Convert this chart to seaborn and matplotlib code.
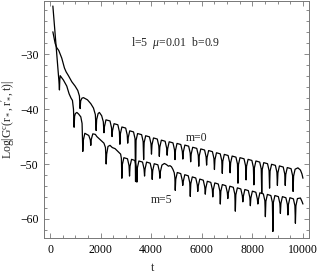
import pandas as pd
import seaborn as sns
import matplotlib
matplotlib.use("Agg")
import matplotlib.pyplot as plt
from matplotlib.ticker import MultipleLocator

# values
t_m0 = [110, 200, 264, 343, 462, 568, 634, 726, 858, 990, 1096, 1160, 1188,
        1210, 1260, 1320, 1478, 1610, 1716, 1790, 1822,
        1842, 1900, 1950, 2040, 2105, 2130,
        2150, 2210, 2370, 2430, 2450,
        2470, 2530, 2680, 2740, 2760,
        2780, 2840, 2990, 3050, 3070,
        3090, 3150, 3300, 3360, 3380,
        3400, 3460, 3620, 3680, 3700,
        3720, 3780, 3930, 3990, 4010,
        4030, 4090, 4240, 4300, 4320,
        4340, 4400, 4550, 4610, 4630,
        4650, 4710, 4860, 4920, 4940,
        4960, 5020, 5170, 5230, 5250,
        5270, 5330, 5480, 5540, 5560,
        5580, 5640, 5800, 5860, 5880,
        5900, 5960, 6110, 6170, 6190,
        6210, 6270, 6420, 6480, 6500,
        6520, 6580, 6730, 6790, 6810,
        6830, 6890, 7040, 7100, 7120,
        7140, 7200, 7350, 7410, 7430,
        7450, 7510, 7670, 7730, 7750,
        7770, 7830, 7980, 8040, 8060,
        8080, 8140, 8290, 8350, 8370,
        8390, 8450, 8600, 8660, 8680,
        8700, 8760, 8910, 8970, 8990,
        9010, 9070, 9220, 9280, 9300,
        9320, 9380, 9530, 9590, 9610,
        9630, 9690, 9800, 9900, 9960, 10000]
logg_m0 = [-25.9, -28.0, -28.8, -29.3, -30.7, -32.5, -33.2, -33.9, -35.0, -35.8, -36.6, -37.6, -39.9,
           -38.5, -38.0, -37.9, -38.3, -39.0, -39.8, -41.0, -43.9,
           -41.9, -40.8, -40.6, -41.2, -42.3, -44.3,
           -43.2, -41.95, -42.15, -43.4, -45.0,
           -43.9, -42.65, -42.85, -44.1, -46.4,
           -44.5, -43.25, -43.45, -44.7, -46.2,
           -45.2, -43.95, -44.15, -45.4, -53.2,
           -45.7, -44.45, -44.65, -45.9, -49.2,
           -46.1, -44.85, -45.05, -46.3, -48.2,
           -46.5, -45.25, -45.45, -46.7, -48.6,
           -46.9, -45.65, -45.85, -47.1, -48.4,
           -47.2, -45.95, -46.15, -47.4, -49.2,
           -47.5, -46.25, -46.45, -47.7, -49.1,
           -47.8, -46.55, -46.75, -48.0, -49.6,
           -48.2, -46.95, -47.15, -48.4, -50.4,
           -48.5, -47.25, -47.45, -48.7, -50.2,
           -48.8, -47.55, -47.75, -49.0, -51.0,
           -49.2, -47.95, -48.15, -49.4, -51.7,
           -49.5, -48.25, -48.45, -49.7, -51.6,
           -49.8, -48.55, -48.75, -50.0, -53.5,
           -50.1, -48.85, -49.05, -50.3, -52.9,
           -50.4, -49.15, -49.35, -50.6, -53.8,
           -50.7, -49.45, -49.65, -50.9, -55.3,
           -51.0, -49.75, -49.95, -51.2, -54.4,
           -51.3, -50.05, -50.25, -51.5, -53.9,
           -51.6, -50.35, -50.55, -51.8, -53.9,
           -51.9, -50.65, -50.85, -52.1, -55.0,
           -52.2, -50.95, -50.7, -51.1, -51.8, -52.6]

t_m5 = [110, 200, 300, 350, 370,
        385, 400, 450, 528, 600, 660, 752, 830, 884, 925, 950,
        970, 1000, 1060, 1130, 1214, 1265, 1294,
        1314, 1374, 1530, 1590, 1610,
        1630, 1690, 1790, 1850, 1990, 2130, 2190, 2218,
        2238, 2290, 2370, 2460, 2570, 2700, 2790, 2820, 2838,
        2858, 2918, 3062, 3122, 3142,
        3162, 3222, 3352, 3412, 3432,
        3452, 3512, 3656, 3716, 3736,
        3756, 3816, 3959, 4019, 4039,
        4059, 4119, 4263, 4323, 4343,
        4363, 4423, 4520, 4600, 4680, 4740, 4800, 4860, 4910, 4935, 4950,
        4970, 5030, 5167, 5227, 5247,
        5267, 5327, 5464, 5524, 5544,
        5564, 5624, 5761, 5821, 5841,
        5861, 5921, 6058, 6118, 6138,
        6158, 6218, 6355, 6415, 6435,
        6455, 6515, 6652, 6712, 6732,
        6752, 6812, 6949, 7009, 7029,
        7049, 7109, 7246, 7306, 7326,
        7346, 7406, 7543, 7603, 7623,
        7643, 7703, 7840, 7900, 7920,
        7940, 8000, 8137, 8197, 8217,
        8237, 8297, 8434, 8494, 8514,
        8534, 8594, 8731, 8791, 8811,
        8831, 8891, 9028, 9088, 9108,
        9128, 9188, 9325, 9385, 9405,
        9425, 9485, 9622, 9682, 9702,
        9722, 9782, 9900, 9960, 10000]
logg_m5 = [-21.2, -26.3, -32.0, -34.9, -36.5,
           -34.6, -33.9, -34.2, -34.7, -35.3, -35.8, -37.2, -38.0, -38.4, -40.0, -43.3,
           -41.3, -40.8, -40.6, -40.9, -41.4, -42.6, -47.7,
           -45.7, -44.4, -44.8, -45.6, -46.6,
           -45.5, -44.5, -44.6, -45.0, -45.6, -46.2, -47.0, -50.0,
           -48.2, -46.8, -46.6, -47.0, -47.2, -47.8, -48.2, -49.0, -52.6,
           -50.1, -48.85, -49.05, -50.3, -52.2,
           -50.4, -49.15, -49.35, -50.6, -53.3,
           -50.7, -49.45, -49.65, -50.9, -52.2,
           -50.9, -49.65, -49.85, -51.1, -52.8,
           -51.2, -49.95, -50.15, -51.4, -52.6,
           -51.4, -50.2, -49.9, -50.1, -50.4, -50.3, -50.5, -51.0, -51.6, -52.5, -54.8,
           -52.8, -51.55, -51.75, -53.0, -53.9,
           -53.2, -51.95, -52.15, -53.4, -55.9,
           -53.6, -52.35, -52.55, -53.8, -55.0,
           -54.0, -52.75, -52.95, -54.2, -55.5,
           -54.4, -53.15, -53.35, -54.6, -56.0,
           -54.7, -53.45, -53.65, -54.9, -57.3,
           -55.0, -53.75, -53.95, -55.2, -56.3,
           -55.3, -54.05, -54.25, -55.5, -58.6,
           -55.6, -54.35, -54.55, -55.8, -56.9,
           -55.9, -54.65, -54.85, -56.1, -57.6,
           -56.2, -54.95, -55.15, -56.4, -57.3,
           -56.5, -55.25, -55.45, -56.7, -59.6,
           -56.8, -55.55, -55.75, -57.0, -62.3,
           -57.0, -55.75, -55.95, -57.2, -59.0,
           -57.2, -55.95, -56.15, -57.4, -59.3,
           -57.4, -56.15, -56.35, -57.6, -60.8,
           -57.6, -56.3, -56.2, -56.8, -57.3]

x_ticks = [0, 2000, 4000, 6000, 8000, 10000]
y_ticks = [-60, -50, -40, -30]

df0 = pd.DataFrame({"t": t_m0, "logg": logg_m0})
df5 = pd.DataFrame({"t": t_m5, "logg": logg_m5})

sns.set_theme(style="ticks")
plt.rcParams["font.family"] = ["Liberation Serif", "DejaVu Serif"]
plt.rcParams["mathtext.fontset"] = "custom"
plt.rcParams["mathtext.rm"] = "Liberation Serif"
plt.rcParams["mathtext.it"] = "Liberation Serif:italic"

fig = plt.figure(figsize=(3.27, 2.73), dpi=100)
ax = fig.add_axes([0.1346, 0.128, 0.8104, 0.868])

sns.lineplot(data=df0, x="t", y="logg", color="black", lw=0.9, estimator=None, sort=False, ax=ax)
sns.lineplot(data=df5, x="t", y="logg", color="black", lw=0.9, estimator=None, sort=False, ax=ax)

ax.set_xlim(-240, 10240)
ax.set_ylim(-63.5, -20.3)
ax.set_xticks(x_ticks)
ax.set_yticks(y_ticks)
ax.xaxis.set_minor_locator(MultipleLocator(500))
ax.yaxis.set_minor_locator(MultipleLocator(2))
ax.tick_params(which="both", direction="in", top=True, right=True, color="#777777", width=0.6,
               labelsize=8.5, labelcolor="black", pad=4)
ax.tick_params(which="major", length=3.5)
ax.tick_params(which="minor", length=2)
for s in ax.spines.values():
    s.set_color("#777777")
    s.set_linewidth(0.7)

ax.set_xlabel("t", fontsize=8.5)
ax.xaxis.set_label_coords(0.41, -0.1)
ax.set_ylabel(r"Log$|\mathrm{G}^{\mathrm{c}}(\mathrm{r}_*,\mathrm{r}^{\prime}_*,\mathrm{t})|$", fontsize=8.5, labelpad=2)

ax.text(4960, -27.9, r"l=5  $\mu$=0.01  b=0.9", fontsize=8.5, ha="center", va="center")
ax.text(5800, -45.2, "m=0", fontsize=8.5, ha="center", va="center")
ax.text(4420, -56.5, "m=5", fontsize=8.5, ha="center", va="center")

fig.savefig("out.png", dpi=100)
